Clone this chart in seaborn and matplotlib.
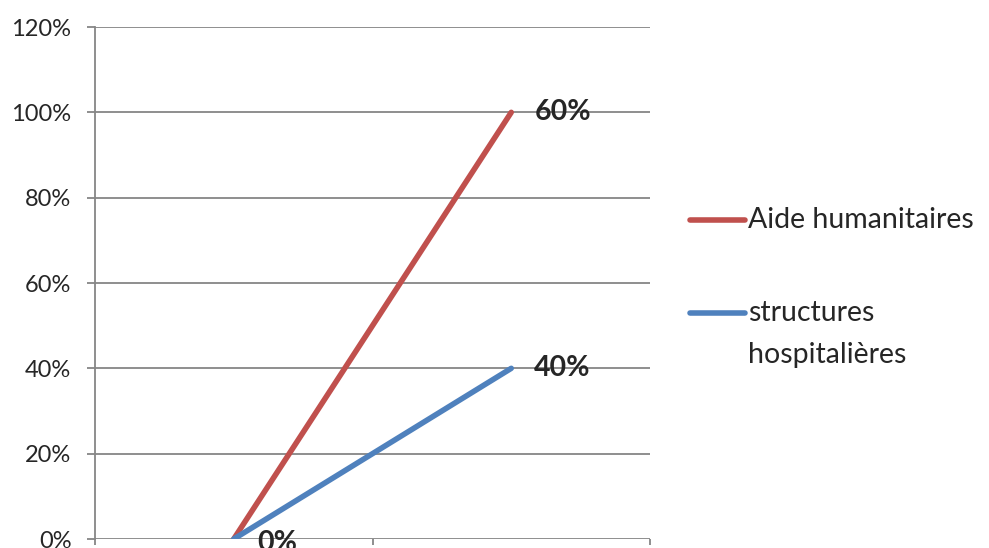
import numpy as np
import pandas as pd
import matplotlib.pyplot as plt
from matplotlib.lines import Line2D
import seaborn as sns

# values (stacked line chart, Excel style)
categories = ['1', '2']
structures = [0.0, 0.40]   # structures hospitalières
aide = [0.0, 0.60]         # Aide humanitaires (stacked on top)
series_names = ['Aide humanitaires', 'structures\nhospitalières']
y_ticks = [0, 0.2, 0.4, 0.6, 0.8, 1.0, 1.2]

red = '#C0504D'
blue = '#4F81BD'
grey = '#868686'

sns.set_style('white')
plt.rcParams['font.family'] = ['Lato', 'DejaVu Sans']

x = np.arange(len(categories))
stacked = np.array(structures) + np.array(aide)
df = pd.DataFrame({
    'x': np.concatenate([x, x]),
    'y': np.concatenate([stacked, structures]),
    'serie': [series_names[0]] * len(x) + [series_names[1]] * len(x),
})

fig = plt.figure(figsize=(9.89, 5.48), dpi=100)
ax = fig.add_axes([95 / 989, 1 - 539 / 548, (650 - 95) / 989, (539 - 27) / 548])

sns.lineplot(data=df, x='x', y='y', hue='serie', palette=[red, blue],
             linewidth=4.0, ax=ax, legend=False, solid_capstyle='round')

ax.set_xlim(-0.5, len(categories) - 0.5)
ax.set_ylim(0, 1.2)
ax.set_yticks(y_ticks)
ax.set_yticklabels([f'{int(round(v * 100))}%' for v in y_ticks], fontsize=17)
ax.set_xticks(np.arange(len(categories) + 1) - 0.5)
ax.set_xticklabels([])
ax.set_xlabel('')
ax.set_ylabel('')

ax.yaxis.grid(True, color=grey, linewidth=1.3)
ax.set_axisbelow(True)
for s in ['top', 'right', 'bottom']:
    ax.spines[s].set_visible(False)
ax.spines['left'].set_color(grey)
ax.spines['left'].set_linewidth(1.3)
ax.tick_params(axis='y', length=6, color=grey, width=1.3, left=True, pad=11)
ax.tick_params(axis='x', length=4, color=grey, width=1.3, bottom=True, direction='out')

# data labels
ax.annotate(f'{int(round(aide[-1] * 100))}%', (x[-1], stacked[-1]),
            xytext=(23, 0), textcoords='offset pixels', ha='left', va='center',
            fontsize=20.5, fontweight='bold')
ax.annotate(f'{int(round(structures[-1] * 100))}%', (x[-1], structures[-1]),
            xytext=(23, 0), textcoords='offset pixels', ha='left', va='center',
            fontsize=20.5, fontweight='bold')
ax.annotate(f'{int(round(structures[0] * 100))}%', (x[0], structures[0]),
            xytext=(24, -4), textcoords='offset pixels', ha='left', va='center',
            fontsize=20.5, fontweight='bold', annotation_clip=False)

# legend drawn like Excel (handle aligned with first line of text)
for col, name, ypx in [(red, series_names[0], 220), (blue, series_names[1], 313)]:
    yy = 1 - ypx / 548
    fig.add_artist(Line2D([690 / 989, 745 / 989], [yy, yy], color=col, linewidth=4.0,
                          solid_capstyle='round'))
    for i, line in enumerate(name.split('\n')):
        fig.text(748 / 989, 1 - (ypx + 42 * i) / 548, line, ha='left', va='center',
                 fontsize=20.5)

fig.savefig('out.png', dpi=100)
